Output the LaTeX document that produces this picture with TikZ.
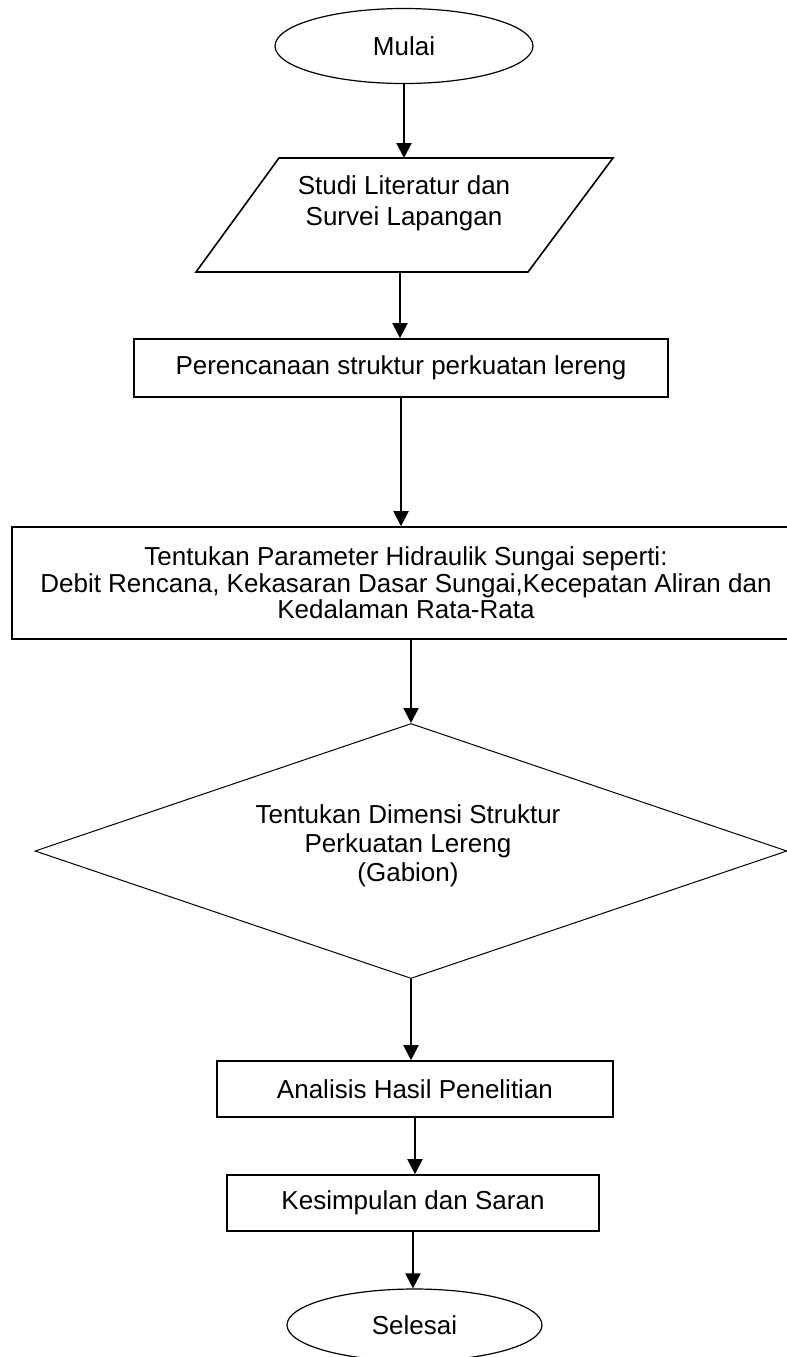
\documentclass[tikz,border=0pt]{standalone}
\usepackage{fontspec}
\setmainfont{Liberation Sans}
\usetikzlibrary{shapes.geometric, arrows.meta, positioning}

\tikzset{
  proses/.style={draw, line width=0.8pt, rectangle, inner sep=0pt, align=center},
  terminal/.style={draw, line width=0.6pt, ellipse, inner sep=0pt},
  panah/.style={line width=1pt, -{Triangle[length=7.5pt,width=7.5pt]}},
}

\begin{document}
\begin{tikzpicture}[x=0.5pt, y=-0.5pt, font=\fontsize{13}{13.25}\selectfont]
			\useasboundingbox (0,0) rectangle (787,1357);
			\clip (0,0) rectangle (787,1357);
			% Start
			\node[terminal, minimum width=129pt, minimum height=37.5pt] (mulai) at (404,46) {Mulai};
			% Input (parallelogram)
			\draw[line width=0.8pt] (279,158) -- (613,158) -- (528,272) -- (196,272) -- cycle;
			\coordinate (studi-atas) at (404,158);
			\coordinate (studi-bawah) at (400,272);
			\node[align=center, font=\fontsize{13}{15.5}\selectfont] (studi) at (404,203)
			      {Studi Literatur dan\\Survei Lapangan};
			% Processes
			\node[proses, minimum width=267pt, minimum height=29pt] (rencana) at (401,368)
			      {Perencanaan struktur perkuatan lereng};
			\node[proses, minimum width=394pt, minimum height=56pt] (param) at (406,583)
			      {Tentukan Parameter Hidraulik Sungai seperti:\\
			       Debit Rencana, Kekasaran Dasar Sungai,Kecepatan Aliran dan\\
			       Kedalaman Rata-Rata};
			% Decision
			\node[draw, diamond, minimum width=376pt, minimum height=127.5pt,
			      inner sep=0pt, line width=0.5pt] (dimensi) at (411,851) {};
			\node[align=center, font=\fontsize{13}{14.5}\selectfont] (dimensitxt) at (408,846)
			      {Tentukan Dimensi Struktur\\Perkuatan Lereng\\(Gabion)};
			\node[proses, minimum width=198pt, minimum height=28pt] (analisis) at (415,1089)
			      {Analisis Hasil Penelitian};
			\node[proses, minimum width=186pt, minimum height=28pt] (simpul) at (413,1203)
			      {Kesimpulan dan Saran};
			% End
			\node[terminal, minimum width=127.5pt, minimum height=36pt] (selesai) at (414.5,1325) {Selesai};
			% Arrows
			\draw[panah] (mulai) -- (mulai |- studi-atas);
			\draw[panah] (studi-bawah) -- (studi-bawah |- rencana.north);
			\draw[panah] (rencana) -- (rencana |- param.north);
			\draw[panah] (param.south -| dimensi.north) -- (dimensi.north);
			\draw[panah] (dimensi.south) -- (dimensi.south |- analisis.north);
			\draw[panah] (analisis) -- (analisis |- simpul.north);
			\draw[panah] (simpul) -- (simpul |- selesai.north);
		\end{tikzpicture}
\end{document}
